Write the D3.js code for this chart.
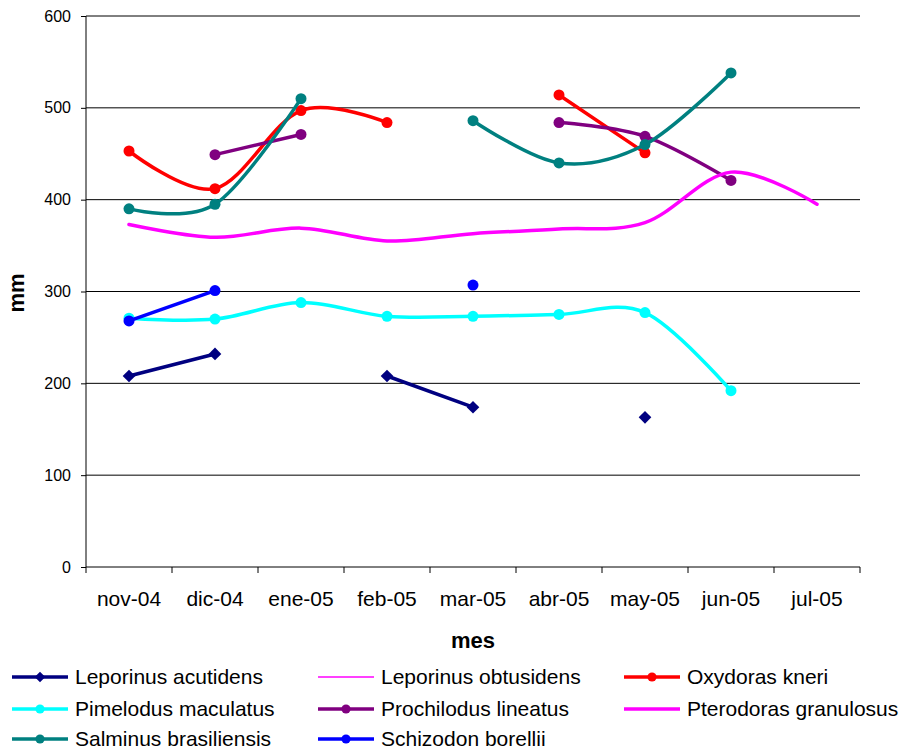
<!DOCTYPE html>
<html><head><meta charset="utf-8">
<script src="https://cdn.jsdelivr.net/npm/d3@7/dist/d3.min.js"></script>
<style>body{margin:0;background:#fff} svg{display:block}</style>
</head><body><svg id="c" width="909" height="753"></svg>
<script>
// ---- data ----
const months = ["nov-04","dic-04","ene-05","feb-05","mar-05","abr-05","may-05","jun-05","jul-05"];
const yTicks = [0,100,200,300,400,500,600];
const seriesNames = ["Leporinus acutidens","Leporinus obtusidens","Oxydoras kneri","Pimelodus maculatus",
  "Prochilodus lineatus","Pterodoras granulosus","Salminus brasiliensis","Schizodon borellii"];
const leporinusAcutidens   = [208, 232, null, 208, 174, null, 163, null, null];
const leporinusObtusidens  = [null, null, null, null, null, null, null, null, null];
const oxydorasKneri        = [453, 412, 497, 484, null, 514, 451, null, null];
const pimelodusMaculatus   = [271, 270, 288, 273, 273, 275, 277, 192, null];
const prochilodusLineatus  = [null, 449, 471, null, null, 484, 469, 421, null];
const pterodorasGranulosus = [373, 359, 369, 355, 363, 368, 375, 430, 395];
const salminusBrasiliensis = [390, 395, 510, null, 486, 440, 460, 538, null];
const schizodonBorellii    = [268, 301, null, null, 307, null, null, null, null];
const seriesValues = [leporinusAcutidens, leporinusObtusidens, oxydorasKneri, pimelodusMaculatus,
  prochilodusLineatus, pterodorasGranulosus, salminusBrasiliensis, schizodonBorellii];
const seriesColors = ["#000080","#FF00FF","#FF0000","#00FFFF","#800080","#FF00FF","#008080","#0000FF"];
const seriesMarkers = ["diamond","none","circle","circle","circle","none","circle","circle"];
const seriesWidths = [3.5, 1.5, 3.5, 3.5, 3.5, 3.5, 3.5, 3.5];

// ---- layout ----
const svg = d3.select("#c");
const L = 86, R = 860, T = 16, B = 567;
const FONT = "'Liberation Sans', Arial, sans-serif";
const x = d3.scaleBand().domain(months).range([L, R]);
const cx = m => x(m) + x.bandwidth() / 2;
const y = d3.scaleLinear().domain([0, 600]).range([B, T]);

// grid
svg.append("g").selectAll("line").data(yTicks.filter(v => v > 0)).join("line")
  .attr("x1", L).attr("x2", R).attr("y1", d => y(d)).attr("y2", d => y(d))
  .attr("stroke", "#000").attr("stroke-width", 1);

// y axis
const yAxis = svg.append("g").attr("transform", `translate(${L},0)`)
  .call(d3.axisLeft(y).tickValues(yTicks).tickSize(5).tickPadding(10));
yAxis.select(".domain").remove();
yAxis.selectAll(".tick line").attr("stroke", "#000");
yAxis.selectAll(".tick text").attr("font-family", FONT).attr("font-size", 16).attr("fill", "#000");
svg.append("line").attr("x1", L).attr("x2", L).attr("y1", T).attr("y2", B).attr("stroke", "#000");

// x axis
svg.append("line").attr("x1", L).attr("x2", R).attr("y1", B).attr("y2", B).attr("stroke", "#000");
const bounds = months.map(m => x(m)).concat([R]);
svg.append("g").selectAll("line").data(bounds).join("line")
  .attr("x1", d => d).attr("x2", d => d).attr("y1", B).attr("y2", B + 6).attr("stroke", "#000");
svg.append("g").selectAll("text").data(months).join("text")
  .attr("x", d => cx(d)).attr("y", 606).attr("text-anchor", "middle")
  .attr("font-family", FONT).attr("font-size", 21).attr("fill", "#000").text(d => d);

// titles
svg.append("text").attr("x", 473).attr("y", 648).attr("text-anchor", "middle")
  .attr("font-family", FONT).attr("font-size", 22).attr("font-weight", "bold").text("mes");
svg.append("text").attr("transform", "translate(24,293) rotate(-90)").attr("text-anchor", "middle")
  .attr("font-family", FONT).attr("font-size", 22).attr("font-weight", "bold").text("mm");

// series
const line = d3.line()
  .defined(d => d.v !== null)
  .x(d => cx(d.m)).y(d => y(d.v))
  .curve(d3.curveCardinal.tension(0));

function marker(g, type, px, py, color, s) {
  if (type === "circle") {
    g.append("circle").attr("cx", px).attr("cy", py).attr("r", s).attr("fill", color);
  } else if (type === "diamond") {
    const h = s * 1.15;
    g.append("path").attr("d", `M${px},${py - h}L${px + h},${py}L${px},${py + h}L${px - h},${py}Z`).attr("fill", color);
  }
}

const plot = svg.append("g");
seriesNames.forEach((name, i) => {
  const pts = months.map((m, j) => ({m, v: seriesValues[i][j]}));
  const g = plot.append("g");
  g.append("path").attr("d", line(pts)).attr("fill", "none")
    .attr("stroke", seriesColors[i]).attr("stroke-width", seriesWidths[i])
    .attr("stroke-linejoin", "round").attr("stroke-linecap", "round");
  pts.filter(d => d.v !== null).forEach(d => marker(g, seriesMarkers[i], cx(d.m), y(d.v), seriesColors[i], 5.5));
});

// legend
const legX = [12, 318, 624];
const legY = [684, 716, 746];
seriesNames.forEach((name, i) => {
  const col = i % 3, row = Math.floor(i / 3);
  const lx = legX[col], ly = legY[row] - 7;
  const g = svg.append("g");
  g.append("line").attr("x1", lx).attr("x2", lx + 56).attr("y1", ly).attr("y2", ly)
    .attr("stroke", seriesColors[i]).attr("stroke-width", seriesWidths[i]);
  marker(g, seriesMarkers[i], lx + 28, ly, seriesColors[i], 4.6);
  g.append("text").attr("x", lx + 63).attr("y", legY[row])
    .attr("font-family", FONT).attr("font-size", 21).attr("fill", "#000").text(name);
});
</script></body></html>
